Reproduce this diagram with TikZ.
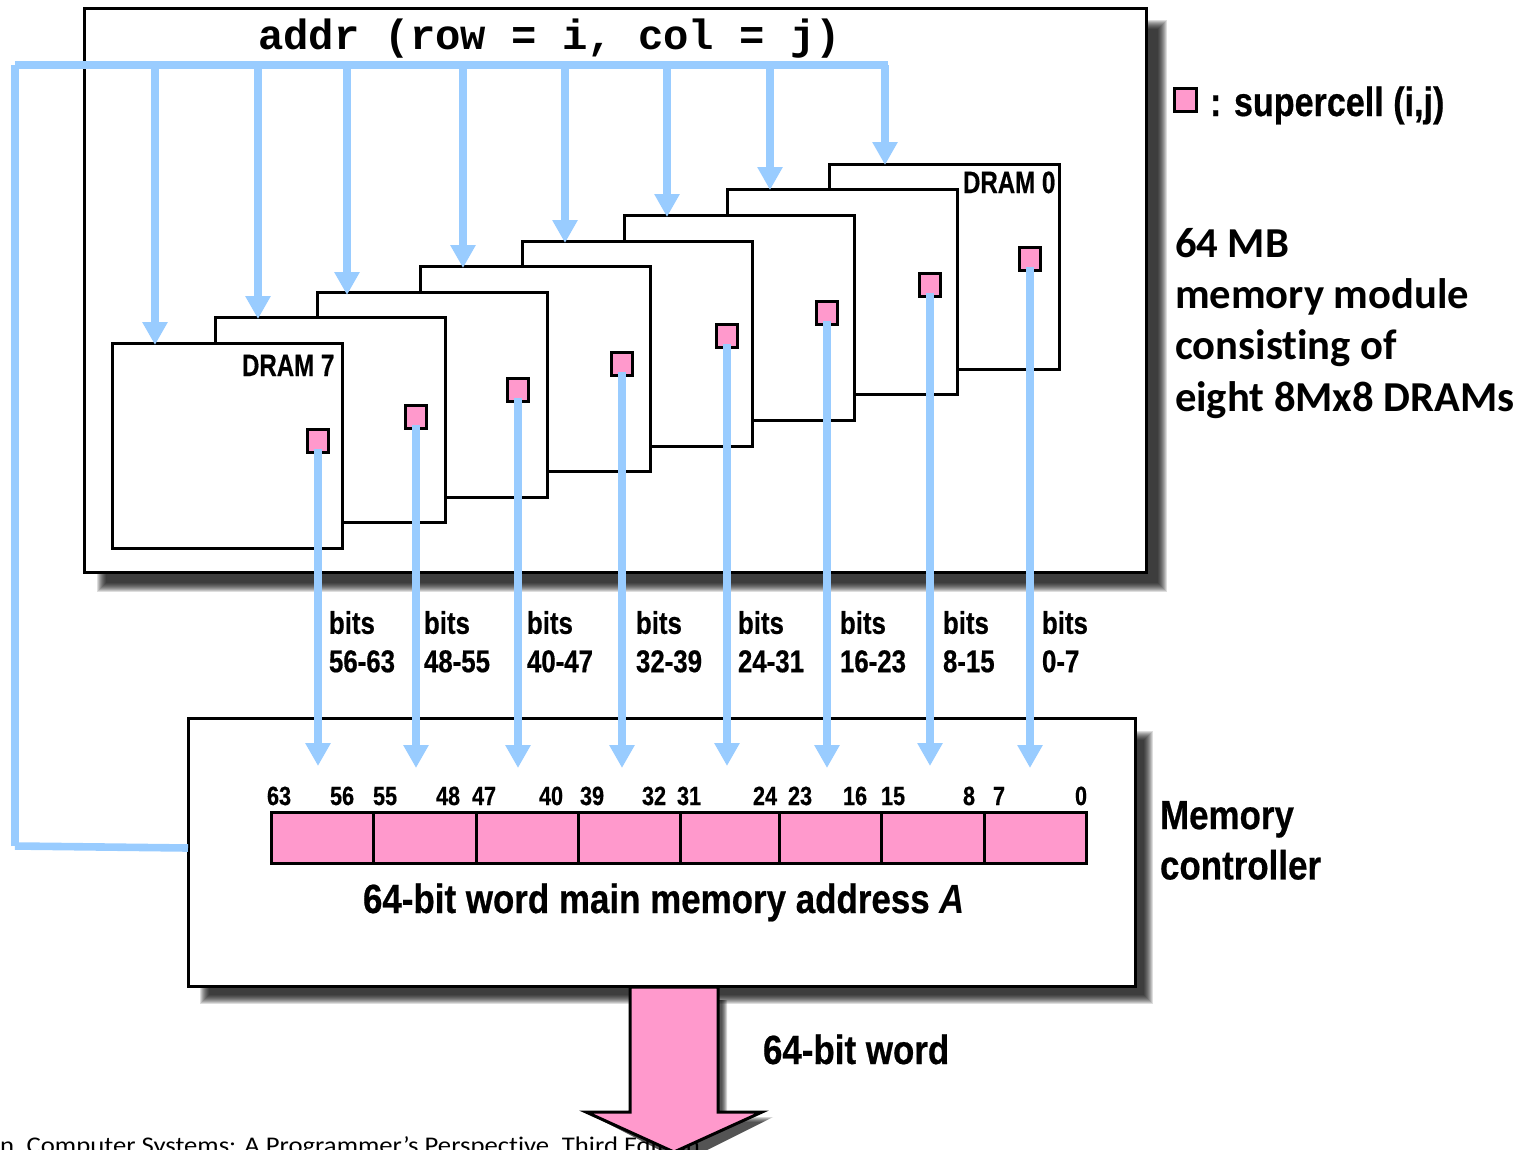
\documentclass[tikz,border=0pt]{standalone}
\usepackage{fontspec}
\usetikzlibrary{arrows.meta}
\setmainfont{Liberation Sans}
\newfontfamily\narrowf[FakeStretch=0.82,BoldFeatures={FakeBold=0.5}]{Liberation Sans}
\newfontfamily\narrowg[FakeStretch=0.855,BoldFeatures={FakeBold=0.5}]{Liberation Sans}
\newfontfamily\narrowh[FakeStretch=0.78,BoldFeatures={FakeBold=0.5}]{Liberation Sans}
\newfontfamily\narrowi[FakeStretch=0.835,BoldFeatures={FakeBold=0.5}]{Liberation Sans}
\newfontfamily\calf[Ligatures=NoCommon]{Carlito}
\newfontfamily\footf[FakeStretch=1.116,Ligatures=NoCommon]{Carlito}
\newfontfamily\monof{Liberation Mono}
\definecolor{busblue}{HTML}{99CCFF}
\definecolor{cellpink}{HTML}{FF99CC}
\newcommand{\softbox}[4]{%
  \foreach \k in {0,...,9}{
    \fill[black,opacity=0.135] ({#1+\k},{#2+\k}) rectangle ({#3-\k},{#4-\k});
  }}
\tikzset{
  x=1bp,y=-1bp,
  panel/.style={draw=black,line width=3bp,fill=white,anchor=north west,inner sep=0pt,outer sep=0pt},
  chip/.style={panel,minimum width=230bp,minimum height=205bp},
  cell/.style={draw=black,line width=3bp,fill=cellpink,minimum width=21.5bp,minimum height=23bp,inner sep=0pt,outer sep=0pt},
  regcell/.style={draw=black,line width=3bp,fill=cellpink,minimum height=51bp,inner sep=0pt,outer sep=0pt,anchor=north west},
  lab/.style={inner sep=0pt,outer sep=0pt,anchor=base west,text=black},
  chiplab/.style={lab,font=\narrowh\bfseries\fontsize{31}{31}\selectfont},
  biglab/.style={lab,font=\narrowg\bfseries\fontsize{41}{41}\selectfont},
  bitslab/.style={inner sep=0pt,outer sep=0pt,anchor=north west,align=left,font=\narrowf\bfseries\fontsize{31.6}{38.5}\selectfont},
  regnum/.style={lab,font=\narrowf\bfseries\fontsize{26.5}{30}\selectfont},
  bus/.style={draw=busblue,line width=7.6bp},
  busarrow/.style={bus,-{Triangle[length=23bp,width=24bp]}},
}
\begin{document}
\begin{tikzpicture}
\useasboundingbox (0,0) rectangle (1525,1149);
\clip (0,0) rectangle (1525,1149);
% module box
\softbox{97}{20}{1167}{592}
\node[panel,minimum width=1062.5bp,minimum height=564.5bp] (module) at (84,8) {};
\node[lab,font=\monof\bfseries\fontsize{42.4}{42}\selectfont] (addr) at (258,49) {addr (row = i, col = j)};
% chips, back to front
\node[chip] (d0) at (829.5,164.5) {};
\node[chip] (d1) at (727.5,189.5) {};
\node[chip] (d2) at (624.5,215) {};
\node[chip] (d3) at (522.5,241) {};
\node[chip] (d4) at (420.5,266.5) {};
\node[chip] (d5) at (317.5,292) {};
\node[chip] (d6) at (215.5,317.5) {};
\node[chip] (d7) at (112.5,343) {};
\node[chiplab] (d0lab) at (963,193) {DRAM 0};
\node[chiplab] (d7lab) at (242,376) {DRAM 7};
% bus
\node[inner sep=0pt,outer sep=0pt,minimum size=0pt] (busend) at (888,65) {};
\coordinate (busN) at (15,65);
\coordinate (busS) at (15,846);
% controller
\softbox{200}{731}{1153}{1004}
\node[panel,minimum width=947bp,minimum height=268bp] (ctrl) at (188,718) {};
% big output arrow
\coordinate (b0) at (630,987);
\coordinate (b1) at (718,987);
% footer
\node[lab,font=\footf\fontsize{24}{24}\selectfont] (foot) at (0,1153) {n, Computer Systems: A Programmer’s Perspective, Third Edition};
\foreach \k in {0,...,5}{
  \fill[black,opacity=0.17] ({630+9+\k},1000) -- ({718+9-\k},1000) -- ({718+9-\k},{1117+\k}) -- ({764+9-2*\k},{1117+\k}) -- (683,1162) -- ({586+9+2*\k},{1117+\k}) -- ({630+9+\k},{1117+\k}) -- cycle;
}
\filldraw[draw=black,line width=3bp,fill=cellpink,line join=miter] (b0) -- (630,1112) -- (586,1112) -- (674,1152) -- (762,1112) -- (718,1112) -- (b1) -- cycle;
\node[biglab] (wordlab) at (763,1064) {64-bit word};
% address lines
\draw[bus] (busS) -- (busN);
\draw[bus] (busN) -- (busend.center);
\draw[bus] (busS) -- (ctrl.west |- 0,848);
\foreach \n/\x/\y in {a7/155/345,a6/258/319,a5/347/295,a4/463/268,a3/565/243,a2/667/217,a1/770/190,a0/885/165}{
  \coordinate (\n top) at (\x,65);
  \coordinate (\n tip) at (\x,\y);
  \draw[busarrow] (\n top) -- (\n tip);
}
% supercells
\foreach \n/\x/\y in {c7/318/441,c6/416/417,c5/518/390,c4/622/364,c3/727/336,c2/827/313,c1/930/285,c0/1030/259}{
  \node[cell] (\n) at (\x,\y) {};
}
% registers
\node[regcell,minimum width=102bp] (r7) at (271,812) {};
\node[regcell,minimum width=103bp] (r6) at (373,812) {};
\node[regcell,minimum width=102bp] (r5) at (476,812) {};
\node[regcell,minimum width=102bp] (r4) at (578,812) {};
\node[regcell,minimum width=99bp]  (r3) at (680,812) {};
\node[regcell,minimum width=102bp] (r2) at (779,812) {};
\node[regcell,minimum width=103bp] (r1) at (881,812) {};
\node[regcell,minimum width=102bp] (r0) at (984,812) {};
% data lines
\foreach \n/\t in {c7/766,c6/768,c5/768,c4/768,c3/766,c2/768,c1/766,c0/768}{
  \coordinate (\n tip) at (\n.south |- 0,\t);
  \draw[busarrow,shorten <=-3.5bp] (\n.south) -- (\n tip);
}
% bit labels
\foreach \n/\x/\t in {b7/329/56-63,b6/424/48-55,b5/527/40-47,b4/636/32-39,b3/738/24-31,b2/840/16-23,b1/943/8-15,b0/1042/0-7}{
  \node[bitslab] (\n lab) at (\x,611) {bits\\\t};
}
% register numbers
\foreach \n/\x/\t in {n63/267/63,n56/330/56,n55/373/55,n48/436/48,n47/472/47,n40/539/40,n39/580/39,n32/642/32,n31/677/31,n24/753/24,n23/788/23,n16/843/16,n15/881/15,n8/963/8,n7/993/7,n0/1075/0}{
  \node[regnum] (\n) at (\x,805) {\t};
}
\node[biglab] (addrlab) at (363,913) {64-bit word main memory address \textit{A}};
% right side
\node[cell] (legendcell) at (1185.5,100) {};
\node[lab,font=\narrowi\bfseries\fontsize{41}{41}\selectfont] (legend) at (1210,116) {: supercell (i,j)};
\node[inner sep=0pt,outer sep=0pt,anchor=north west,align=left,font=\calf\bfseries\fontsize{42.8}{51.5}\selectfont] (modlab) at (1175,228) {64 MB\\memory module\\consisting of\\eight 8Mx8 DRAMs};
\node[inner sep=0pt,outer sep=0pt,anchor=north west,align=left,font=\narrowg\bfseries\fontsize{41}{50.5}\selectfont] (ctrllab) at (1160,801) {Memory\\controller};
\end{tikzpicture}
\end{document}
